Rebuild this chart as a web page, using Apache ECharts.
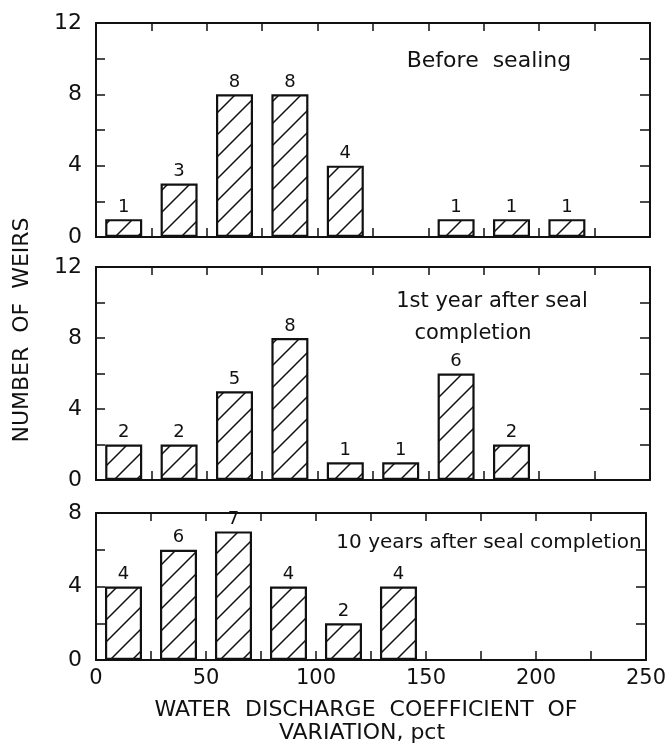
<!DOCTYPE html>
<html>
<head>
<meta charset="utf-8">
<script src="https://cdn.jsdelivr.net/npm/echarts@6/dist/echarts.min.js"></script>
<style>
html,body{margin:0;padding:0;background:#fff;}
#chart{width:669px;height:747px;}
</style>
</head>
<body>
<div id="chart"></div>
<script>
// ---- data ----
const binCenters = [12.5, 37.5, 62.5, 87.5, 112.5, 137.5, 162.5, 187.5, 212.5];
const beforeSealing = [1, 3, 8, 8, 4, 0, 1, 1, 1];
const firstYearAfter = [2, 2, 5, 8, 1, 1, 6, 2, 0];
const tenYearsAfter = [4, 6, 7, 4, 2, 4, 0, 0, 0];
const panelTitle1 = 'Before  sealing';
const panelTitle2a = '1st year after seal';
const panelTitle2b = 'completion';
const panelTitle3 = '10 years after seal completion';
const xTickLabels = [0, 50, 100, 150, 200, 250];
const yMaxes = [12, 12, 8];
const yLabelStep = 4;
const xAxisTitle1 = 'WATER  DISCHARGE  COEFFICIENT  OF';
const xAxisTitle2 = 'VARIATION, pct';
const yAxisTitle = 'NUMBER  OF  WEIRS';

const FONT = 'DejaVu Sans';

// hatch pattern
function makeHatch() {
  const s = 22;
  const c = document.createElement('canvas');
  c.width = s; c.height = s;
  const g = c.getContext('2d');
  g.fillStyle = '#fff';
  g.fillRect(0, 0, s, s);
  g.strokeStyle = '#111';
  g.lineWidth = 1.5;
  g.beginPath();
  g.moveTo(-2, s + 2); g.lineTo(s + 2, -2);
  g.moveTo(-2 - s, s + 2); g.lineTo(2, -2);
  g.moveTo(s - 2, s + 2); g.lineTo(2 * s + 2, -2);
  g.stroke();
  return c;
}
const hatch = makeHatch();

const chart = echarts.init(document.getElementById('chart'), null, {renderer: 'canvas'});

const grids = [
  {left: 96, right: 19, top: 23, height: 214},
  {left: 96, right: 19, top: 267, height: 213},
  {left: 96, right: 19, top: 513, height: 147}
];

const lineStyle = {color: '#111', width: 2};
const xAxes = [], yAxes = [], series = [];
const datasets = [beforeSealing, firstYearAfter, tenYearsAfter];

grids.forEach((gr, i) => {
  xAxes.push({
    type: 'value', gridIndex: i, min: 0, max: 250, interval: 25, position: 'bottom',
    axisLine: {show: true, onZero: false, lineStyle},
    axisTick: {show: true, inside: true, length: 9, lineStyle: {color: '#111', width: 1.5}},
    splitLine: {show: false},
    axisLabel: {
      show: i === 2, color: '#111', fontFamily: FONT, fontSize: 21, margin: 8,
      formatter: v => xTickLabels.indexOf(v) >= 0 ? String(v) : ''
    }
  });
  xAxes.push({
    type: 'value', gridIndex: i, min: 0, max: 250, interval: 25, position: 'top',
    axisLine: {show: true, onZero: false, lineStyle},
    axisTick: {show: true, inside: true, length: 8, lineStyle: {color: '#111', width: 1.5}},
    splitLine: {show: false}, axisLabel: {show: false}
  });
  yAxes.push({
    type: 'value', gridIndex: i, min: 0, max: yMaxes[i], interval: 2, position: 'left',
    axisLine: {show: true, onZero: false, lineStyle},
    axisTick: {show: true, inside: true, length: 9, lineStyle: {color: '#111', width: 1.5}},
    splitLine: {show: false},
    axisLabel: {
      color: '#111', fontFamily: FONT, fontSize: 22, margin: 14,
      formatter: v => v % yLabelStep === 0 ? String(v) : ''
    }
  });
  yAxes.push({
    type: 'value', gridIndex: i, min: 0, max: yMaxes[i], interval: 2, position: 'right',
    axisLine: {show: true, onZero: false, lineStyle},
    axisTick: {show: true, inside: true, length: 10, lineStyle: {color: '#111', width: 1.5}},
    splitLine: {show: false}, axisLabel: {show: false}
  });

  const data = [];
  datasets[i].forEach((v, k) => { if (v > 0) data.push([binCenters[k], v]); });
  series.push({
    type: 'bar', xAxisIndex: i * 2, yAxisIndex: i * 2, data,
    barWidth: 37,
    itemStyle: {color: {image: hatch, repeat: 'repeat'}, borderColor: '#111', borderWidth: 2.2},
    label: {show: true, position: 'top', distance: 3, color: '#111', fontFamily: FONT, fontSize: 18,
      formatter: p => String(p.value[1])},
    silent: true, animation: false
  });
});

function txt(text, x, y, size, extra) {
  return Object.assign({
    type: 'text', x, y,
    style: {text, fill: '#111', font: size + 'px "DejaVu Sans"', align: 'center', verticalAlign: 'middle'}
  }, extra || {});
}

chart.setOption({
  animation: false,
  backgroundColor: '#fff',
  grid: grids,
  xAxis: xAxes,
  yAxis: yAxes,
  series,
  graphic: [
    txt(panelTitle1, 489, 61, 22),
    txt(panelTitle2a, 492, 302, 21),
    txt(panelTitle2b, 473, 334, 21),
    txt(panelTitle3, 489, 543, 20),
    txt(xAxisTitle1, 366, 710, 22),
    txt(xAxisTitle2, 362, 733, 22),
    txt(yAxisTitle, 22, 330, 22, {rotation: Math.PI / 2})
  ]
});
</script>
</body>
</html>
